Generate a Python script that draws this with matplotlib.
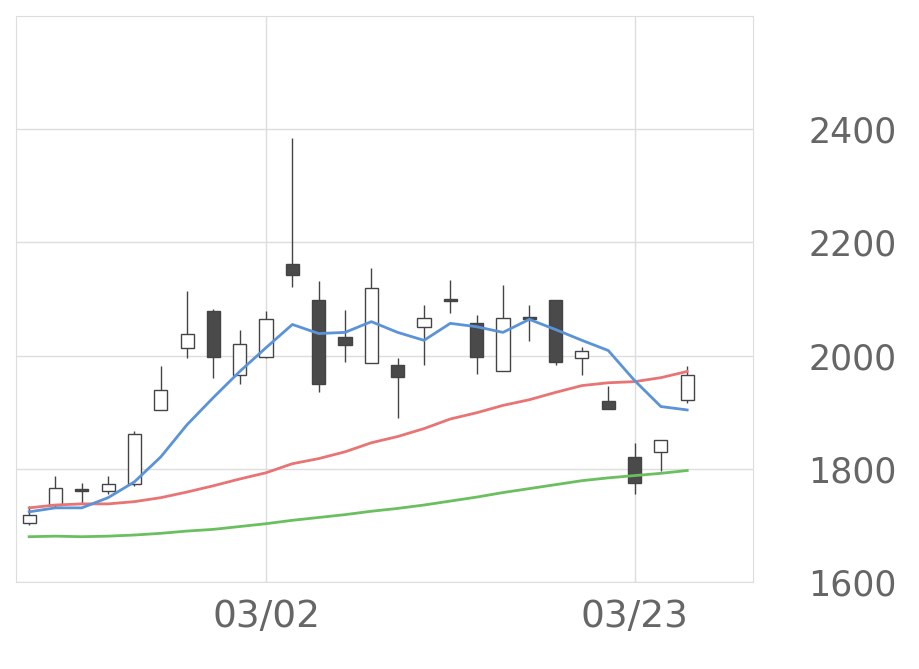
import matplotlib
matplotlib.use("Agg")
import matplotlib.pyplot as plt
import numpy as np

opens  = [1705, 1736, 1765, 1761, 1773, 1904, 2014, 2078, 1965, 1998, 2161, 2099, 2032, 1987, 1984, 2050, 2099, 2058, 1972, 2069, 2099, 1996, 1919, 1821, 1830, 1922]
closes = [1719, 1766, 1760, 1773, 1862, 1940, 2039, 1998, 2021, 2064, 2143, 1950, 2019, 2119, 1963, 2067, 2097, 1998, 2067, 2064, 1989, 2009, 1906, 1775, 1851, 1965]
highs  = [1735, 1788, 1775, 1788, 1867, 1982, 2115, 2083, 2046, 2078, 2384, 2131, 2080, 2154, 1996, 2090, 2133, 2071, 2124, 2090, 2099, 2016, 1947, 1846, 1851, 1982]
lows   = [1700, 1730, 1740, 1755, 1770, 1904, 1996, 1961, 1949, 1995, 2122, 1936, 1988, 1987, 1890, 1984, 2076, 1968, 1972, 2025, 1984, 1966, 1906, 1756, 1796, 1917]
ma_short = [1724, 1731, 1731, 1749, 1777, 1821, 1878, 1926, 1972, 2014, 2055, 2039, 2041, 2060, 2041, 2027, 2057, 2051, 2041, 2064, 2046, 2027, 2009, 1956, 1910, 1904]
ma_mid   = [1731, 1736, 1738, 1738, 1742, 1749, 1759, 1770, 1782, 1793, 1809, 1818, 1830, 1846, 1857, 1871, 1888, 1899, 1912, 1922, 1935, 1947, 1952, 1954, 1961, 1972]
ma_long  = [1680, 1681, 1680, 1681, 1683, 1686, 1690, 1693, 1698, 1703, 1709, 1714, 1719, 1725, 1730, 1736, 1743, 1750, 1758, 1765, 1772, 1779, 1784, 1788, 1792, 1797]
tick_idx = [9, 23]
tick_labels = ["03/02", "03/23"]
y_ticks = [1600, 1800, 2000, 2200, 2400]

fig = plt.figure(figsize=(9.2, 6.69), dpi=100)
ax = fig.add_axes([16/920, 1-582/669, 737/920, 566/669])

x = np.arange(len(opens))
for i in x:
    o, c, h, l = opens[i], closes[i], highs[i], lows[i]
    ax.vlines(i, l, h, color="#444444", linewidth=1, zorder=2)
    lo, hi = min(o, c), max(o, c)
    face = "white" if c >= o else "#4a4a4a"
    ax.bar(i, max(hi - lo, 3), bottom=lo, width=0.5, color=face,
           edgecolor="#444444", linewidth=1, zorder=3)

ax.plot(x, ma_long, color="#6abf5e", linewidth=2, zorder=4)
ax.plot(x, ma_mid, color="#e87474", linewidth=2, zorder=4)
ax.plot(x, ma_short, color="#5b93d9", linewidth=2, zorder=4)

ax.set_xlim(-0.5, 27.5)
ax.set_ylim(1600, 2600)
ax.set_xticks(tick_idx)
ax.set_xticklabels(tick_labels)
ax.set_yticks(y_ticks)
ax.yaxis.tick_right()
ax.tick_params(axis="both", length=0, labelcolor="#666666")
ax.tick_params(axis="y", labelsize=25, pad=40)
ax.tick_params(axis="x", labelsize=27, pad=12)
ax.grid(True, color="#dddddd", linewidth=1, zorder=0)
ax.set_axisbelow(True)
for s in ax.spines.values():
    s.set_color("#dddddd")

fig.savefig("out.png", dpi=100)
